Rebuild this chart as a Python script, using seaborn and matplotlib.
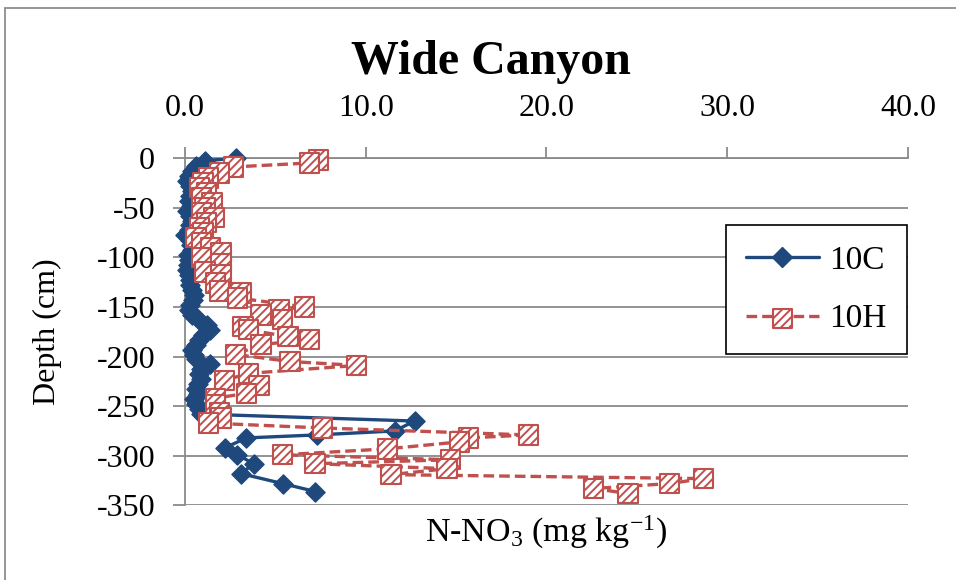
import matplotlib
matplotlib.use("Agg")
import matplotlib.pyplot as plt
import seaborn as sns
from matplotlib.lines import Line2D
from matplotlib.legend_handler import HandlerTuple
from matplotlib.patches import Rectangle

# Soil nitrate profile, site 10C (mg kg-1 vs depth in cm)
c_depth = [0, -3, -8, -13, -18, -23, -28, -33, -38, -43, -48, -53, -58, -63,
           -68, -73, -78, -83, -88, -93, -98, -103, -108, -113, -118, -123,
           -128, -133, -138, -143, -148, -153, -158, -163, -168, -173, -178,
           -183, -188, -193, -198, -203, -208, -213, -218, -223, -228, -233,
           -238, -243, -248, -253, -258, -265, -275, -279, -282, -292, -299,
           -308, -318, -328, -336]
c_no3 = [2.8, 1.1, 0.6, 0.4, 0.2, 0.1, 0.3, 0.4, 0.3, 0.2, 0.35, 0.1, 0.3, 0.4,
         0.3, 0.2, 0.0, 0.25, 0.35, 0.4, 0.15, 0.2, 0.15, 0.1, 0.2, 0.25,
         0.3, 0.4, 0.5, 0.45, 0.3, 0.2, 0.4, 0.8, 1.2, 1.4, 1.0,
         0.8, 0.6, 0.4, 0.5, 0.6, 1.4, 0.9, 0.8, 0.9, 0.7, 0.6,
         0.7, 0.5, 0.6, 0.8, 0.9, 12.7, 11.6, 7.3, 3.4, 2.2, 2.9,
         3.8, 3.1, 5.4, 7.2]

# Site 10H
h_depth = [-2, -5, -9, -15, -20, -25, -30, -35, -40, -45, -50, -55, -60, -65,
           -70, -75, -80, -85, -90, -95, -100, -106, -115, -118, -126, -134,
           -136, -141, -150, -153, -158, -163, -170, -173, -180, -183, -188,
           -198, -205, -209, -217, -224, -229, -237, -242, -249, -257, -262,
           -267, -272, -279, -282, -286, -293, -299, -304, -308, -313, -319,
           -323, -328, -333, -338]
h_no3 = [7.4, 6.9, 2.7, 1.9, 1.3, 1.0, 0.8, 1.2, 0.9, 1.5, 1.1, 0.9, 1.6, 1.2,
         0.8, 1.0, 0.6, 0.9, 1.4, 2.0, 0.9, 2.0, 1.1, 2.0, 1.7, 1.9,
         3.1, 2.9, 6.6, 5.2, 4.2, 5.4, 3.2, 3.5, 5.7, 6.9, 4.2,
         2.8, 5.8, 9.5, 3.5, 2.2, 4.1, 3.4, 1.7, 1.7, 1.9, 2.0,
         1.3, 7.6, 19.0, 15.7, 15.2, 11.2, 5.4, 14.7, 7.2, 14.5, 11.4,
         28.7, 26.8, 22.6, 24.5]

series_labels = ["10C", "10H"]
x_ticks = [0, 10, 20, 30, 40]
x_ticklabels = ["0.0", "10.0", "20.0", "30.0", "40.0"]
y_ticks = [0, -50, -100, -150, -200, -250, -300, -350]

BLUE = "#1F497D"
RED = "#C0504D"
GRID = "#8A8A8A"

sns.set_theme(style="white")
plt.rcParams["font.family"] = ["Liberation Serif", "DejaVu Serif"]
plt.rcParams["axes.unicode_minus"] = False
plt.rcParams["mathtext.fontset"] = "custom"
plt.rcParams["mathtext.rm"] = "Liberation Serif"
plt.rcParams["mathtext.it"] = "Liberation Serif:italic"
plt.rcParams["mathtext.default"] = "rm"
plt.rcParams["hatch.color"] = RED
plt.rcParams["hatch.linewidth"] = 1.4
for key in ["text.color", "axes.labelcolor", "xtick.labelcolor",
            "ytick.labelcolor"]:
    plt.rcParams[key] = "black"

fig = plt.figure(figsize=(9.56, 5.8), dpi=100)
ax = fig.add_axes([0.19351, 0.12862, 0.75628, 0.59897])

# 10C: solid line with diamonds
sns.lineplot(x=c_no3, y=c_depth, sort=False, estimator=None, color=BLUE,
             lw=2.4, ax=ax, zorder=3)
sns.scatterplot(x=c_no3, y=c_depth, marker="D", s=95, color=BLUE,
                edgecolor=BLUE, linewidth=1, ax=ax, zorder=4, clip_on=False)

# 10H: dashed line with hatched squares
sns.lineplot(x=h_no3, y=h_depth, sort=False, estimator=None, color=RED,
             lw=2.4, ax=ax, zorder=5, dashes=False)
ax.lines[-1].set_linestyle((0, (3.2, 1.5)))
sns.scatterplot(x=h_no3, y=h_depth, marker="s", s=195, facecolor="white",
                edgecolor=RED, linewidth=1.5, hatch="////", ax=ax, zorder=6,
                clip_on=False)

ax.set_xlim(0, 40)
ax.set_ylim(-350, 0)
ax.set_xticks(x_ticks)
ax.set_xticklabels(x_ticklabels)
ax.set_yticks(y_ticks)
ax.xaxis.tick_top()
ax.xaxis.set_label_position("bottom")

ax.grid(False)
ax.yaxis.grid(True, color=GRID, lw=1.3)
ax.set_axisbelow(True)
for side in ["right", "bottom"]:
    ax.spines[side].set_visible(False)
for side in ["left", "top"]:
    ax.spines[side].set_color(GRID)
    ax.spines[side].set_linewidth(1.3)

ax.tick_params(axis="x", which="major", direction="out", length=8,
               width=1.3, color=GRID, pad=17, labelsize=23, top=True,
               bottom=False, labeltop=True, labelbottom=False,
               labelcolor="black")
ax.tick_params(axis="y", which="major", direction="out", length=9,
               width=1.3, color=GRID, pad=12.5, labelsize=23, left=True,
               labelcolor="black")

ax.set_ylabel("Depth (cm)", fontsize=23, labelpad=25, color="black")
ax.set_xlabel(r"N-NO$_3$ (mg kg$^{-1}$)", fontsize=24.5, labelpad=6,
              color="black")

fig.text(0.5135, 0.893, "Wide Canyon", ha="center", va="center",
         fontsize=34.5, fontweight="bold", color="black")

# legend with overlaid dashed line + hatched square for 10H
blue_handle = Line2D([], [], color=BLUE, lw=2.4, marker="D", ms=10, mec=BLUE)
red_line = Line2D([], [], color=RED, lw=2.4, ls=(0, (3.2, 1.5)))
red_mark = ax.scatter([], [], marker="s", s=195, facecolor="white",
                      edgecolor=RED, linewidth=1.5, hatch="////")
leg = ax.legend([blue_handle, (red_line, red_mark)], series_labels,
                handler_map={tuple: HandlerTuple(ndivide=1)},
                loc="upper left", bbox_to_anchor=(0.748, 0.807),
                borderaxespad=0, fontsize=24, frameon=True, fancybox=False,
                framealpha=1, edgecolor="black", handlelength=2.2,
                handletextpad=0.3, labelspacing=0.85, borderpad=0.6,
                scatterpoints=1)
leg.get_frame().set_linewidth(1.2)
for t in leg.get_texts():
    t.set_color("black")

# outer chart frame
fig.add_artist(Rectangle((5 / 956, -0.05), 1.0, 1.036, transform=fig.transFigure,
                         fill=False, edgecolor="#8C8C8C", lw=1.3))

fig.savefig("out.png", dpi=100)
